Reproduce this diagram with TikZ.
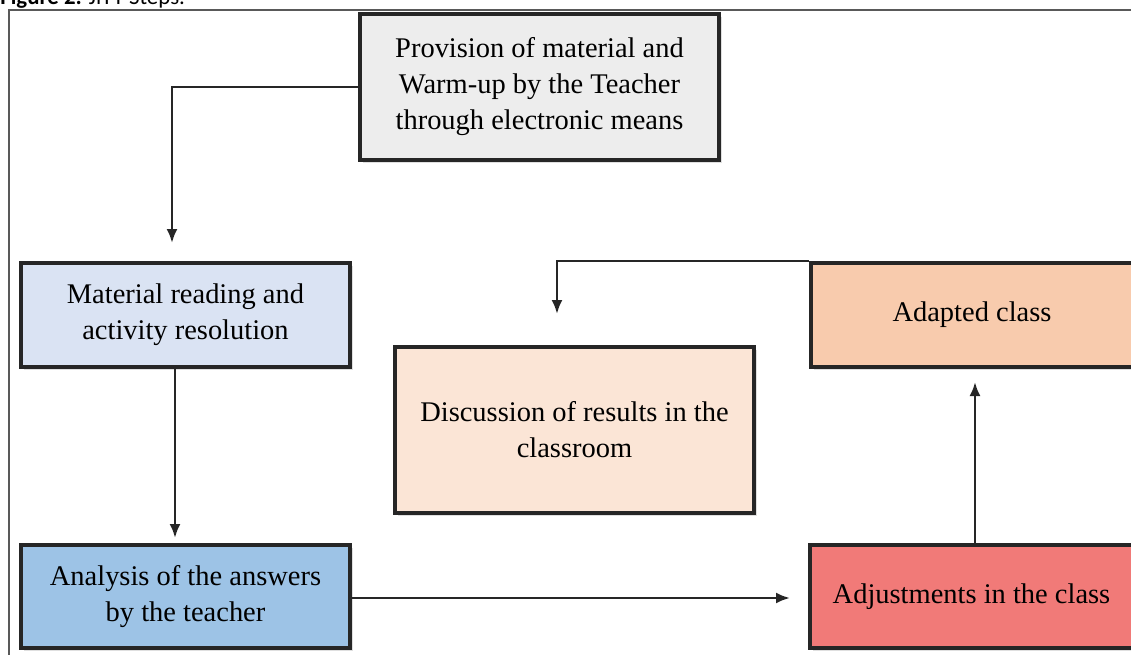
\documentclass[tikz,border=0pt]{standalone}
\usepackage{fontspec}
\setmainfont{Liberation Serif}
\newfontfamily\capfont{Carlito}
\usetikzlibrary{arrows.meta,shadows,calc}

\definecolor{provfill}{HTML}{EDEDED}
\definecolor{matfill}{HTML}{DAE3F3}
\definecolor{anafill}{HTML}{9DC3E6}
\definecolor{discfill}{HTML}{FBE5D6}
\definecolor{adaptfill}{HTML}{F8CBAD}
\definecolor{adjfill}{HTML}{F17A78}
\definecolor{edge}{HTML}{262626}

\tikzset{
    stepbox/.style={draw=edge, line width=2.1pt, align=center, inner sep=0pt,
        font=\fontsize{16.2}{20.5}\selectfont,
        drop shadow={shadow xshift=0.05cm, shadow yshift=-0.05cm, opacity=0.25}},
    link/.style={draw=edge, line width=1.4pt, >={Latex[length=2.8mm,width=2.2mm]}}
}

\begin{document}
\begin{tikzpicture}
    \useasboundingbox (0,0) rectangle (22.62,-13.1);
    \draw[gray!70!black, line width=0.6pt] (0.18,-13.3) -- (0.18,-0.2) -- (22.8,-0.2);
    \node[anchor=base west, inner sep=0pt, font=\capfont\fontsize{13}{15}\selectfont] (cap) at (0,-0.09) {\textbf{Figure 2:} JiTT Steps.};

    \node[stepbox, fill=provfill, minimum width=7.18cm, minimum height=2.92cm] (prov) at (10.79,-1.74)
        {Provision of material and\\ Warm-up by the Teacher\\ through electronic means};
    \node[stepbox, fill=matfill, minimum width=6.58cm, minimum height=2.08cm] (mat) at (3.71,-6.3)
        {Material reading and\\ activity resolution};
    \node[stepbox, fill=anafill, minimum width=6.58cm, minimum height=2.06cm] (ana) at (3.71,-11.93)
        {Analysis of the answers\\ by the teacher};
    \node[stepbox, fill=discfill, minimum width=7.18cm, minimum height=3.32cm] (disc) at (11.49,-8.6)
        {Discussion of results in the\\ classroom};
    \node[stepbox, fill=adaptfill, minimum width=6.44cm, minimum height=2.08cm] (adapt) at (19.44,-6.3)
        {Adapted class};
    \node[stepbox, fill=adjfill, minimum width=6.46cm, minimum height=2.06cm] (adj) at (19.43,-11.93)
        {Adjustments in the class};

    \coordinate (matin) at (3.44,-4.86);
    \coordinate (anaout) at (3.5,-7.34);
    \coordinate (anain) at (3.5,-10.76);
    \coordinate (adjin) at (15.8,-11.96);
    \coordinate (adjout) at (19.5,-10.9);
    \coordinate (adaptin) at (19.5,-7.64);
    \coordinate (discin) at (11.14,-6.28);

    \draw[link, ->] (prov.west) -| (matin);
    \draw[link, ->] (anaout) -- (anain);
    \draw[link, ->] (ana.east |- adjin) -- (adjin);
    \draw[link, ->] (adjout) -- (adaptin);
    \draw[link, ->] (adapt.north west) -| (discin);
\end{tikzpicture}
\end{document}
